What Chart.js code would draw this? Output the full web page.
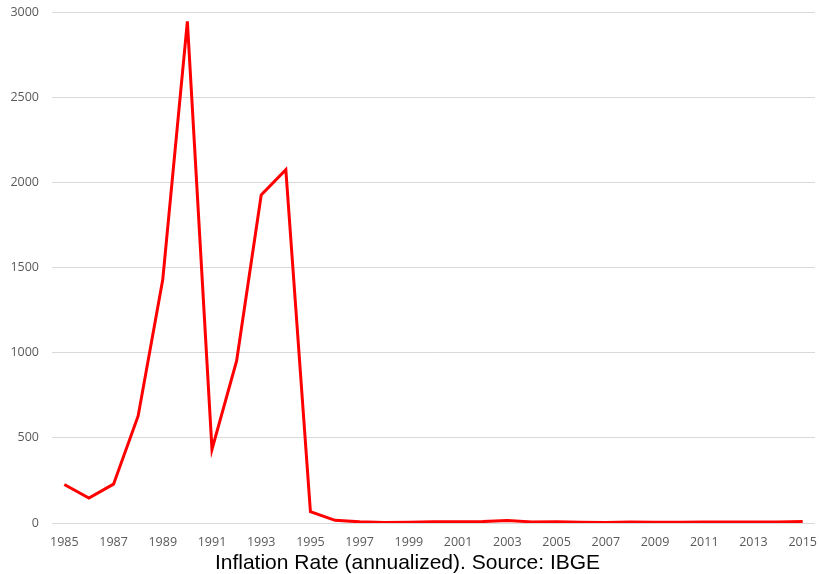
<!DOCTYPE html>
<html>
<head>
<meta charset="utf-8">
<script src="https://cdn.jsdelivr.net/npm/chart.js@4"></script>
<style>
  html, body { margin: 0; padding: 0; background: #ffffff; }
  canvas { display: block; }
</style>
</head>
<body>
<canvas id="chart" width="820" height="574"></canvas>
<script>
// Years of the series
const years = [
  1985, 1986, 1987, 1988, 1989, 1990, 1991, 1992, 1993, 1994,
  1995, 1996, 1997, 1998, 1999, 2000, 2001, 2002, 2003, 2004,
  2005, 2006, 2007, 2008, 2009, 2010, 2011, 2012, 2013, 2014, 2015
];

// Annual inflation, percent
const inflation = [
  226.0, 147.1, 228.3, 629.1, 1430.7, 2947.7, 432.8, 952.0, 1928.0, 2075.9,
  66.0, 15.8, 6.9, 3.2, 4.9, 7.0, 6.8, 8.5, 14.7, 6.6,
  6.9, 4.2, 3.6, 5.7, 4.9, 5.0, 6.6, 5.4, 6.2, 6.3, 9.0
];

// Value axis ticks
const yTicks = [0, 500, 1000, 1500, 2000, 2500, 3000];

const titleText = 'Inflation Rate (annualized). Source: IBGE';
const tickFont = { family: '"Open Sans", sans-serif', size: 12.5 };

new Chart(document.getElementById('chart'), {
  type: 'line',
  data: {
    labels: years.map(String),
    datasets: [{
      data: inflation,
      borderColor: '#ff0000',
      borderWidth: 3,
      pointRadius: 0,
      pointHoverRadius: 0,
      tension: 0,
      fill: false
    }]
  },
  options: {
    responsive: false,
    animation: false,
    layout: { padding: { left: 0, right: 5, top: 12.5, bottom: 0 } },
    plugins: {
      legend: { display: false },
      tooltip: { enabled: false },
      title: {
        display: true,
        position: 'bottom',
        text: titleText,
        color: '#000000',
        font: { family: '"Liberation Sans", Arial, sans-serif', size: 21, weight: 'normal', lineHeight: 1.0 },
        padding: { top: 4, bottom: 0 }
      }
    },
    scales: {
      x: {
        offset: true,
        grid: { display: false, drawTicks: false },
        border: { display: false },
        ticks: {
          autoSkip: false,
          maxRotation: 0,
          padding: 11.5,
          color: '#595959',
          font: tickFont,
          callback: function (value, index) {
            return index % 2 === 0 ? this.getLabelForValue(value) : '';
          }
        },
        afterFit: (axis) => {
          axis.height = 26;
          axis.paddingLeft = 0;
          axis.paddingRight = 0;
        }
      },
      y: {
        min: 0,
        max: 3000,
        afterBuildTicks: (axis) => { axis.ticks = yTicks.map(v => ({ value: v })); },
        grid: { color: '#d9d9d9', lineWidth: 1, drawTicks: false },
        border: { display: false },
        ticks: {
          padding: 13,
          color: '#595959',
          font: tickFont,
          callback: (value) => String(value)
        },
        afterFit: (axis) => {
          axis.width = 52;
          axis.paddingTop = 0;
          axis.paddingBottom = 0;
        }
      }
    }
  }
});
</script>
</body>
</html>
